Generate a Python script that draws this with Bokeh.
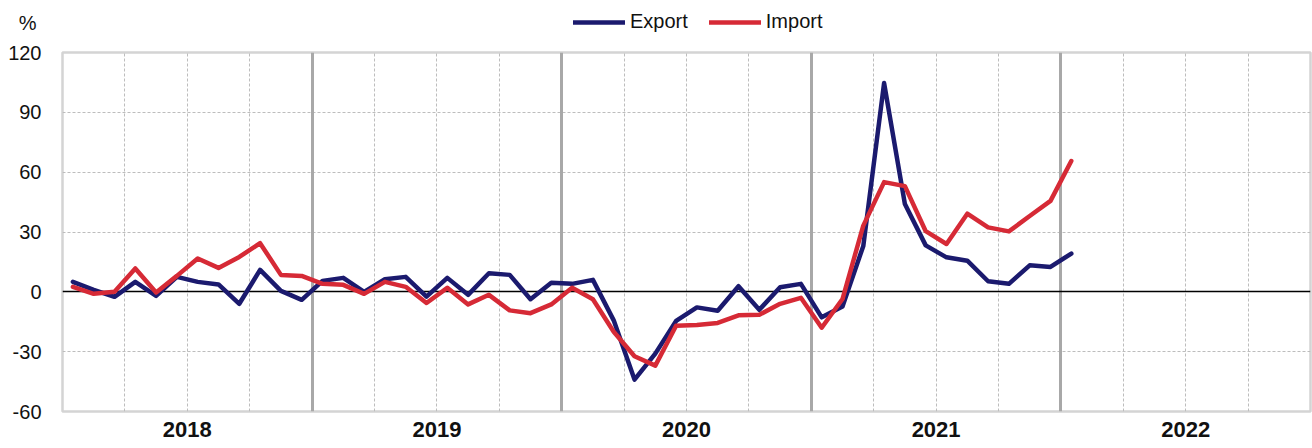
from bokeh.plotting import figure
from bokeh.layouts import column
from bokeh.models import (Range1d, FixedTicker, Grid, Legend, LegendItem,
                          ColumnDataSource)
from bokeh.embed import file_html
from bokeh.resources import INLINE

# ---- data (monthly, Jan 2018 .. Jan 2022, % y/y) ----
months = [f"{y}-{m:02d}" for y in range(2018, 2022) for m in range(1, 13)] + ["2022-01"]
export = [5, 1, -2.5, 5, -2, 7.5, 5, 3.7, -6, 11, 0.5, -4,
          5.5, 7, 0, 6.3, 7.5, -2.4, 7, -1.5, 9.3, 8.5, -3.7, 4.6,
          4, 6, -14.3, -44, -31, -14.6, -7.8, -9.5, 2.8, -9, 2.3, 4,
          -12.8, -7.3, 23, 104.7, 44, 23.3, 17.3, 15.6, 5.3, 4, 13.3, 12.5,
          19.2]
imports = [2.5, -1, 0, 11.7, -0.3, 8, 16.7, 12, 17.5, 24.4, 8.5, 8,
           4, 3.5, -1, 5, 2.5, -5.6, 2, -6.3, -1.5, -9.3, -10.7, -6.3,
           2, -3.7, -20, -32.3, -37, -17, -16.6, -15.6, -11.8, -11.5, -6, -3,
           -18, -3.6, 33.2, 55, 53, 30.4, 24, 39.2, 32.3, 30.3, 38, 45.6,
           65.6]
years = ["2018", "2019", "2020", "2021", "2022"]
y_ticks = [-60, -30, 0, 30, 60, 90, 120]
y_tick_labels = ["-60", "-30", "0", "30", "60", "90", "120"]
unit_label = "%"

EXPORT_C = "#1b1a6e"
IMPORT_C = "#d62a36"
FONT = "Liberation Sans, Arial, sans-serif"
W = 1312
TOP_H = 44

x = [i + 0.5 for i in range(len(months))]
src = ColumnDataSource(dict(x=x, month=months, export=export, imports=imports))

# ---------------- header strip: unit label (as axis label) + legend ----------------
top = figure(width=W, height=TOP_H, output_backend="svg", toolbar_location=None,
             x_range=Range1d(0, 1), y_range=Range1d(0, 1), x_axis_type=None,
             min_border_left=62, min_border_right=2, min_border_top=0,
             min_border_bottom=0)
top.outline_line_color = None
top.xgrid.grid_line_color = None
top.ygrid.grid_line_color = None
top.background_fill_color = "white"
top.border_fill_color = "white"
top.yaxis.ticker = FixedTicker(ticks=[0.5])
top.yaxis.major_label_overrides = {0.5: unit_label}
top.yaxis.axis_line_color = None
top.yaxis.major_tick_line_color = None
top.yaxis.minor_tick_line_color = None
top.yaxis.major_tick_out = 0
top.yaxis.major_label_standoff = 26
top.yaxis.major_label_text_font = FONT
top.yaxis.major_label_text_font_size = "20px"
top.yaxis.major_label_text_color = "#111111"

nan_src = ColumnDataSource(dict(x=[float("nan")], y=[float("nan")]))
k_exp = top.line("x", "y", source=nan_src, line_color=EXPORT_C, line_width=4.5, line_cap="round")
k_imp = top.line("x", "y", source=nan_src, line_color=IMPORT_C, line_width=4.5, line_cap="round")

legend = Legend(items=[LegendItem(label="Export", renderers=[k_exp]),
                       LegendItem(label="Import", renderers=[k_imp])],
                orientation="horizontal", location=(511, 11),
                glyph_width=52, glyph_height=18, label_height=18,
                label_standoff=5, spacing=21,
                padding=0, margin=0, border_line_color=None,
                background_fill_alpha=0,
                label_text_font=FONT, label_text_font_size="20px",
                label_text_color="#111111")
top.add_layout(legend, "center")

# ---------------- main chart ----------------
n_months = 12 * len(years)
p = figure(width=W, height=448 - TOP_H, output_backend="svg",
           toolbar_location=None,
           x_range=Range1d(0, n_months), y_range=Range1d(-60, 120),
           min_border_left=62, min_border_right=2, min_border_top=8,
           min_border_bottom=37)
p.background_fill_color = "white"
p.border_fill_color = "white"
p.outline_line_color = "#d4d4d4"
p.outline_line_width = 2.5

p.xgrid.grid_line_color = None
p.ygrid.ticker = FixedTicker(ticks=[t for t in y_ticks if t != 0])
p.ygrid.grid_line_color = "#bdbdbd"
p.ygrid.grid_line_dash = "3 2"
p.ygrid.grid_line_width = 1

quarter = Grid(dimension=0, ticker=FixedTicker(ticks=[m for m in range(3, n_months, 3) if m % 12]),
               grid_line_color="#bdbdbd", grid_line_dash="3 2", grid_line_width=1)
yearg = Grid(dimension=0, ticker=FixedTicker(ticks=list(range(12, n_months, 12))),
             grid_line_color="#a8a8a8", grid_line_width=3)
zero = Grid(dimension=1, ticker=FixedTicker(ticks=[0]),
            grid_line_color="black", grid_line_width=1.5)
p.add_layout(quarter)
p.add_layout(yearg)
p.add_layout(zero)

p.yaxis.ticker = FixedTicker(ticks=y_ticks)
p.yaxis.major_label_overrides = {t: s for t, s in zip(y_ticks, y_tick_labels)}
p.yaxis.axis_line_color = None
p.yaxis.major_tick_line_color = None
p.yaxis.minor_tick_line_color = None
p.yaxis.major_tick_out = 0
p.yaxis.major_label_standoff = 21
p.yaxis.major_label_text_font = FONT
p.yaxis.major_label_text_font_size = "20px"
p.yaxis.major_label_text_color = "#111111"

year_centers = [12 * i + 6 for i in range(len(years))]
p.xaxis.ticker = FixedTicker(ticks=year_centers)
p.xaxis.major_label_overrides = {c: y for c, y in zip(year_centers, years)}
p.xaxis.axis_line_color = None
p.xaxis.major_tick_line_color = None
p.xaxis.minor_tick_line_color = None
p.xaxis.major_tick_out = 0
p.xaxis.major_label_standoff = 10
p.xaxis.major_label_text_font = FONT
p.xaxis.major_label_text_font_style = "bold"
p.xaxis.major_label_text_font_size = "22px"
p.xaxis.major_label_text_color = "#111111"

p.line("x", "export", source=src, line_color=EXPORT_C, line_width=4.5,
       line_join="round", line_cap="round")
p.line("x", "imports", source=src, line_color=IMPORT_C, line_width=4.5,
       line_join="round", line_cap="round")

layout = column(top, p, spacing=0)
open("out.html", "w").write(file_html(layout, INLINE))
